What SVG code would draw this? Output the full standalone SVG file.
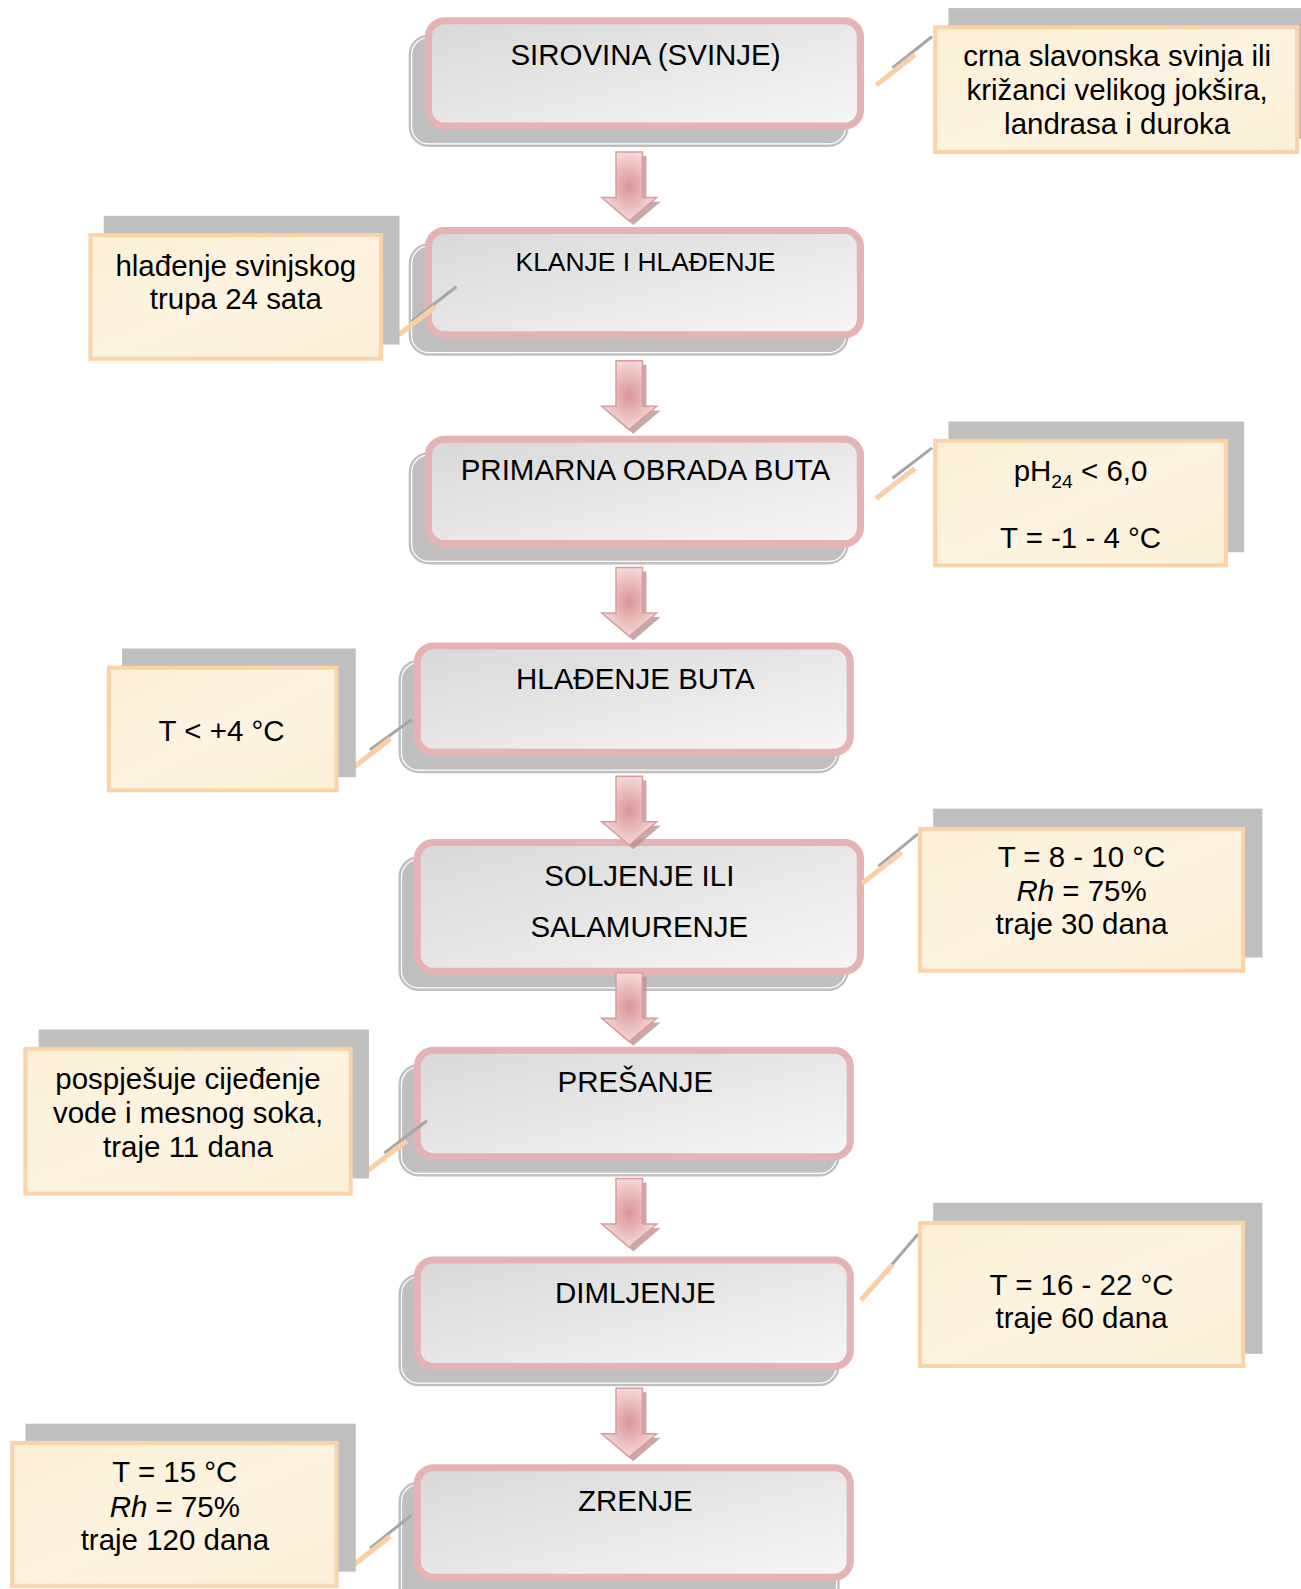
<svg xmlns="http://www.w3.org/2000/svg" width="1301" height="1589" viewBox="0 0 1301 1589">
<style>
.sh{fill:#bfbfbf}
.shl{fill:none;stroke:#ffffff;stroke-width:1.2}
.box{fill:url(#bg);stroke:#e5b3b3;stroke-width:7}
.t{font-family:"Liberation Sans",Arial,sans-serif;font-size:29px;fill:#000;text-anchor:middle}
.cs{fill:#bfbfbf}
.cb{fill:url(#cg);stroke:#fbd3ab;stroke-width:4}
.lg{stroke:#a6a6a6;stroke-width:3;fill:none}
.lo{stroke:#fbcfa6;stroke-width:5;fill:none}
.ar{fill:url(#ag);stroke:#d99c9c;stroke-width:1.5}
.as{fill:#b98b8b;opacity:.75}
</style>
<defs>
<linearGradient id="bg" x1="0" y1="0" x2="1" y2="1">
<stop offset="0" stop-color="#d8d8d8"/>
<stop offset="1" stop-color="#f6f6f6"/>
</linearGradient>
<linearGradient id="cg" x1="0" y1="0" x2="1" y2="1">
<stop offset="0" stop-color="#fcefd4"/>
<stop offset="0.5" stop-color="#fdf3e0"/>
<stop offset="1" stop-color="#fcefd6"/>
</linearGradient>
<radialGradient id="ag" cx="0.5" cy="0.5" r="0.6">
<stop offset="0" stop-color="#dc9494"/>
<stop offset="1" stop-color="#f8e6e6"/>
</radialGradient>
</defs>
<g transform="scale(1.0165,1.0133)">
<g id="n1">
<rect class="sh" x="402" y="34" width="433" height="111" rx="20"/>
<rect class="shl" x="405" y="37" width="427" height="105" rx="17"/>
<rect class="box" x="421.5" y="20.5" width="425" height="104" rx="16"/>
<text class="t" x="635" y="64">SIROVINA (SVINJE)</text>
</g>
<g id="n2">
<rect class="sh" x="402" y="240" width="433" height="111" rx="20"/>
<rect class="shl" x="405" y="243" width="427" height="105" rx="17"/>
<rect class="box" x="421.5" y="227.5" width="425" height="103" rx="16"/>
<text class="t" x="635" y="267" style="font-size:26px">KLANJE I HLAĐENJE</text>
</g>
<g id="n3">
<rect class="sh" x="402" y="446" width="433" height="111" rx="20"/>
<rect class="shl" x="405" y="449" width="427" height="105" rx="17"/>
<rect class="box" x="421.5" y="433.5" width="425" height="103" rx="16"/>
<text class="t" x="635" y="474">PRIMARNA OBRADA BUTA</text>
</g>
<g id="n4">
<rect class="sh" x="392" y="651" width="434" height="112" rx="20"/>
<rect class="shl" x="395" y="654" width="428" height="106" rx="17"/>
<rect class="box" x="410.5" y="637.5" width="426" height="105" rx="16"/>
<text class="t" x="625" y="680">HLAĐENJE BUTA</text>
</g>
<g id="n5">
<rect class="sh" x="392" y="845" width="443" height="133" rx="20"/>
<rect class="shl" x="395" y="848" width="437" height="127" rx="17"/>
<rect class="box" x="410.5" y="831.5" width="436" height="127" rx="16"/>
<text class="t" x="629" y="874">SOLJENJE ILI</text>
<text class="t" x="629" y="925">SALAMURENJE</text>
</g>
<g id="n6">
<rect class="sh" x="392" y="1050" width="434" height="111" rx="20"/>
<rect class="shl" x="395" y="1053" width="428" height="105" rx="17"/>
<rect class="box" x="410.5" y="1036.5" width="426" height="105" rx="16"/>
<text class="t" x="625" y="1078">PREŠANJE</text>
</g>
<g id="n7">
<rect class="sh" x="392" y="1257" width="434" height="111" rx="20"/>
<rect class="shl" x="395" y="1260" width="428" height="105" rx="17"/>
<rect class="box" x="410.5" y="1243.5" width="426" height="105" rx="16"/>
<text class="t" x="625" y="1286">DIMLJENJE</text>
</g>
<g id="n8">
<rect class="sh" x="392" y="1462" width="434" height="140" rx="20"/>
<rect class="shl" x="395" y="1465" width="428" height="134" rx="17"/>
<rect class="box" x="410.5" y="1448.5" width="426" height="108" rx="16"/>
<text class="t" x="625" y="1491">ZRENJE</text>
</g>

<g id="connectors">
<path class="as" d="M610,154H636V199H650L623,222L596,199H610Z"/>
<path class="ar" d="M606,150H632V195H646L619,218L592,195H606Z"/>
<path class="as" d="M610,360H636V405H650L623,428L596,405H610Z"/>
<path class="ar" d="M606,356H632V401H646L619,424L592,401H606Z"/>
<path class="as" d="M610,564H636V609H650L623,632L596,609H610Z"/>
<path class="ar" d="M606,560H632V605H646L619,628L592,605H606Z"/>
<path class="as" d="M610,770H636V815H650L623,838L596,815H610Z"/>
<path class="ar" d="M606,766H632V811H646L619,834L592,811H606Z"/>
<path class="as" d="M610,964H636V1009H650L623,1032L596,1009H610Z"/>
<path class="ar" d="M606,960H632V1005H646L619,1028L592,1005H606Z"/>
<path class="as" d="M610,1167H636V1212H650L623,1235L596,1212H610Z"/>
<path class="ar" d="M606,1163H632V1208H646L619,1231L592,1208H606Z"/>
<path class="as" d="M610,1374H636V1419H650L623,1442L596,1419H610Z"/>
<path class="ar" d="M606,1370H632V1415H646L619,1438L592,1415H606Z"/>

<line class="lg" x1="878" y1="67" x2="917" y2="36"/>
<line class="lo" x1="862" y1="84" x2="900" y2="54"/>
<line class="lg" x1="405" y1="317" x2="449" y2="283"/>
<line class="lo" x1="390" y1="332" x2="428" y2="303"/>
<line class="lg" x1="878" y1="472" x2="917" y2="442"/>
<line class="lo" x1="862" y1="492" x2="900" y2="462"/>
<line class="lg" x1="364" y1="740" x2="405" y2="710"/>
<line class="lo" x1="347" y1="758" x2="384" y2="729"/>
<line class="lg" x1="864" y1="855" x2="903" y2="823"/>
<line class="lo" x1="848" y1="872" x2="887" y2="841"/>
<line class="lg" x1="378" y1="1138" x2="420" y2="1106"/>
<line class="lo" x1="362" y1="1155" x2="400" y2="1126"/>
<line class="lg" x1="862" y1="1266" x2="903" y2="1218"/>
<line class="lo" x1="847" y1="1283" x2="878" y2="1248"/>
<line class="lg" x1="364" y1="1528" x2="405" y2="1495"/>
<line class="lo" x1="347" y1="1545" x2="384" y2="1516"/>
</g>

<g id="c1">
<rect class="cs" x="933" y="8" width="352" height="129"/>
<rect class="cb" x="920" y="27" width="356" height="123"/>
<text class="t" x="1099" y="65">crna slavonska svinja ili</text>
<text class="t" x="1099" y="99">križanci velikog jokšira,</text>
<text class="t" x="1099" y="132">landrasa i duroka</text>
</g>
<g id="c2">
<rect class="cs" x="102" y="213" width="291" height="127"/>
<rect class="cb" x="89" y="232" width="286" height="122"/>
<text class="t" x="232" y="272">hlađenje svinjskog</text>
<text class="t" x="232" y="305">trupa 24 sata</text>
</g>
<g id="c3">
<rect class="cs" x="933" y="416" width="291" height="129"/>
<rect class="cb" x="920" y="435" width="286" height="123"/>
<text class="t" x="1063" y="475">pH<tspan dy="7" style="font-size:19px">24</tspan><tspan dy="-7"> &lt; 6,0</tspan></text>
<text class="t" x="1063" y="541">T = -1 - 4 °C</text>
</g>
<g id="c4">
<rect class="cs" x="120" y="640" width="230" height="127"/>
<rect class="cb" x="107" y="659" width="224" height="121"/>
<text class="t" x="218" y="731">T &lt; +4 °C</text>
</g>
<g id="c5">
<rect class="cs" x="918" y="798" width="324" height="147"/>
<rect class="cb" x="905" y="818" width="318" height="140"/>
<text class="t" x="1064" y="856">T = 8 - 10 °C</text>
<text class="t" x="1064" y="889"><tspan font-style="italic">Rh</tspan> = 75%</text>
<text class="t" x="1064" y="922">traje 30 dana</text>
</g>
<g id="c6">
<rect class="cs" x="38" y="1016" width="325" height="147"/>
<rect class="cb" x="25" y="1035" width="320" height="143"/>
<text class="t" x="185" y="1075">pospješuje cijeđenje</text>
<text class="t" x="185" y="1108">vode i mesnog soka,</text>
<text class="t" x="185" y="1142">traje 11 dana</text>
</g>
<g id="c7">
<rect class="cs" x="918" y="1187" width="324" height="149"/>
<rect class="cb" x="905" y="1207" width="318" height="141"/>
<text class="t" x="1064" y="1278">T = 16 - 22 °C</text>
<text class="t" x="1064" y="1311">traje 60 dana</text>
</g>
<g id="c8">
<rect class="cs" x="25" y="1405" width="325" height="146"/>
<rect class="cb" x="12" y="1424" width="319" height="141"/>
<text class="t" x="172" y="1463">T = 15 °C</text>
<text class="t" x="172" y="1497"><tspan font-style="italic">Rh</tspan> = 75%</text>
<text class="t" x="172" y="1530">traje 120 dana</text>
</g>
</g>
</svg>
